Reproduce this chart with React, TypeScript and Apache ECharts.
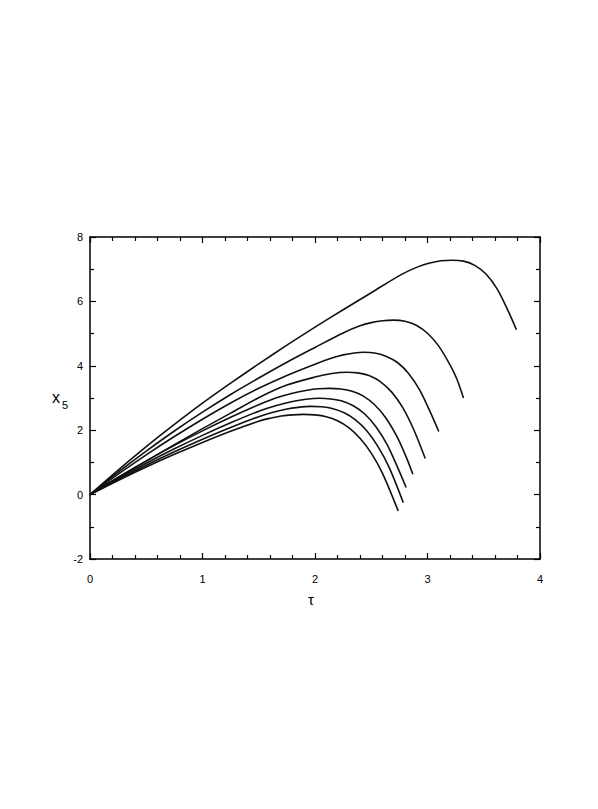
import React, { useEffect, useRef } from "react";
import * as echarts from "echarts";

const xTicks = [0, 1, 2, 3, 4];
const yTicks = [-2, 0, 2, 4, 6, 8];

// [tau, x5] pairs, one array per curve (top to bottom)
const curve1 = [[0, 0], [0.25, 0.76], [0.5, 1.49], [0.75, 2.18], [1, 2.84], [1.25, 3.46], [1.5, 4.06], [1.75, 4.64], [2, 5.2], [2.25, 5.74], [2.5, 6.27], [2.77, 6.84], [2.92, 7.08], [3.02, 7.19], [3.12, 7.26], [3.22, 7.28], [3.32, 7.25], [3.42, 7.12], [3.52, 6.85], [3.62, 6.38], [3.72, 5.68], [3.79, 5.12]];
const curve2 = [[0, 0], [0.25, 0.695], [0.5, 1.35], [0.75, 1.975], [1, 2.56], [1.25, 3.11], [1.5, 3.62], [1.75, 4.11], [2, 4.57], [2.25, 5.02], [2.4, 5.24], [2.5, 5.34], [2.6, 5.4], [2.7, 5.42], [2.8, 5.385], [2.9, 5.26], [3.0, 5.01], [3.1, 4.61], [3.2, 4.03], [3.26, 3.6], [3.32, 3.0]];
const curve3 = [[0, 0], [0.25, 0.633], [0.5, 1.235], [0.75, 1.803], [1, 2.34], [1.25, 2.845], [1.5, 3.3], [1.75, 3.7], [2, 4.05], [2.15, 4.24], [2.25, 4.34], [2.35, 4.4], [2.43, 4.42], [2.53, 4.4], [2.63, 4.3], [2.73, 4.11], [2.83, 3.77], [2.93, 3.25], [3.03, 2.52], [3.1, 1.96]];
const curve4 = [[0, 0], [0.25, 0.525], [0.5, 1.04], [0.75, 1.55], [1, 2.05], [1.25, 2.53], [1.5, 3.01], [1.75, 3.4], [2, 3.65], [2.15, 3.76], [2.28, 3.8], [2.38, 3.78], [2.48, 3.7], [2.58, 3.51], [2.68, 3.19], [2.78, 2.7], [2.88, 2.0], [2.98, 1.12]];
const curve5 = [[0, 0], [0.25, 0.539], [0.5, 1.049], [0.75, 1.529], [1, 1.98], [1.25, 2.4], [1.5, 2.79], [1.65, 3.0], [1.8, 3.15], [1.93, 3.24], [2.03, 3.285], [2.13, 3.3], [2.23, 3.28], [2.33, 3.21], [2.43, 3.06], [2.53, 2.79], [2.63, 2.38], [2.73, 1.79], [2.81, 1.17], [2.87, 0.63]];
const curve6 = [[0, 0], [0.25, 0.502], [0.5, 0.976], [0.75, 1.422], [1, 1.84], [1.25, 2.23], [1.5, 2.59], [1.65, 2.76], [1.8, 2.89], [1.92, 2.96], [2.04, 2.99], [2.14, 2.97], [2.24, 2.91], [2.34, 2.76], [2.44, 2.51], [2.54, 2.115], [2.64, 1.56], [2.74, 0.8], [2.81, 0.22]];
const curve7 = [[0, 0], [0.25, 0.468], [0.5, 0.911], [0.75, 1.328], [1, 1.72], [1.25, 2.086], [1.5, 2.42], [1.62, 2.55], [1.74, 2.65], [1.85, 2.71], [1.96, 2.74], [2.06, 2.726], [2.16, 2.667], [2.26, 2.54], [2.36, 2.32], [2.46, 1.98], [2.56, 1.49], [2.66, 0.84], [2.785, -0.25]];
const curve8 = [[0, 0], [0.25, 0.44], [0.5, 0.856], [0.75, 1.25], [1, 1.62], [1.25, 1.967], [1.5, 2.28], [1.6, 2.37], [1.7, 2.44], [1.8, 2.477], [1.9, 2.49], [2.0, 2.476], [2.1, 2.42], [2.2, 2.295], [2.3, 2.08], [2.4, 1.75], [2.5, 1.29], [2.6, 0.66], [2.74, -0.51]];

const curves = [curve1, curve2, curve3, curve4, curve5, curve6, curve7, curve8];

export default function App() {
  const ref = useRef<HTMLDivElement>(null);
  useEffect(() => {
    if (!ref.current) return;
    const chart = echarts.init(ref.current, null, { renderer: "svg" });
    const font = "Liberation Sans, Arial, Helvetica, sans-serif";
    const axisCommon = {
      type: "value",
      axisLine: { show: true, onZero: false, lineStyle: { color: "#000", width: 1.5 } },
      axisTick: { show: true, inside: true, length: 6, lineStyle: { color: "#000", width: 1.2 } },
      minorTick: { show: true, length: 4, lineStyle: { color: "#000", width: 1.2 } },
      splitLine: { show: false },
    };
    chart.setOption({
      animation: false,
      backgroundColor: "#fff",
      grid: { left: 90, top: 237, width: 450, height: 322, containLabel: false },
      xAxis: [
        {
          ...axisCommon,
          position: "bottom",
          min: xTicks[0],
          max: xTicks[xTicks.length - 1],
          interval: 1,
          minorTick: { ...axisCommon.minorTick, splitNumber: 5 },
          axisLabel: { show: true, margin: 14, color: "#000", fontSize: 11, fontFamily: font },
        },
        {
          ...axisCommon,
          position: "top",
          min: xTicks[0],
          max: xTicks[xTicks.length - 1],
          interval: 1,
          minorTick: { ...axisCommon.minorTick, splitNumber: 5 },
          axisLabel: { show: false },
        },
      ],
      yAxis: [
        {
          ...axisCommon,
          position: "left",
          min: yTicks[0],
          max: yTicks[yTicks.length - 1],
          interval: 2,
          minorTick: { ...axisCommon.minorTick, splitNumber: 2 },
          axisLabel: { show: true, margin: 7, color: "#000", fontSize: 11, fontFamily: font },
        },
        {
          ...axisCommon,
          position: "right",
          min: yTicks[0],
          max: yTicks[yTicks.length - 1],
          interval: 2,
          minorTick: { ...axisCommon.minorTick, splitNumber: 2 },
          axisLabel: { show: false },
        },
      ],
      graphic: [
        { type: "text", left: 308, top: 592, style: { text: "τ", fontSize: 15, fontFamily: font, fill: "#000" } },
        { type: "text", left: 52, top: 389, style: { text: "x", fontSize: 16, fontFamily: font, fill: "#000" } },
        { type: "text", left: 62, top: 399, style: { text: "5", fontSize: 11, fontFamily: font, fill: "#000" } },
      ],
      series: curves.map((c) => ({
        type: "line",
        data: c,
        smooth: 0.3,
        showSymbol: false,
        symbol: "none",
        lineStyle: { color: "#111", width: 1.6 },
        xAxisIndex: 0,
        yAxisIndex: 0,
      })),
    });
    return () => chart.dispose();
  }, []);
  return <div ref={ref} style={{ position: "fixed", left: 0, top: 0, width: 598, height: 809 }} />;
}
